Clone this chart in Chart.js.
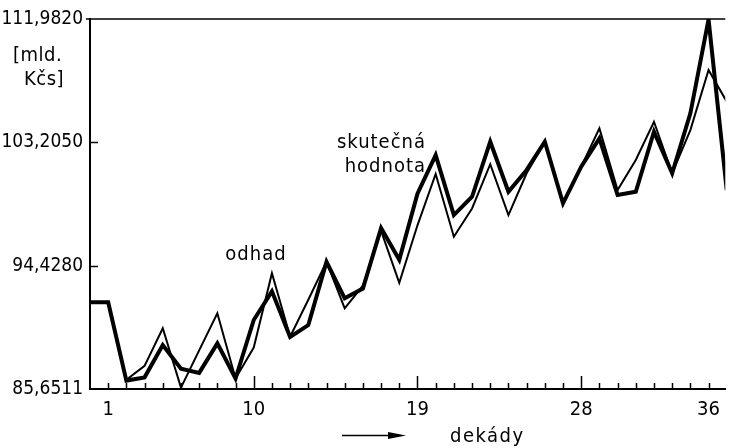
<!DOCTYPE html>
<html>
<head>
<meta charset="utf-8">
<script src="https://cdn.jsdelivr.net/npm/chart.js@4/dist/chart.umd.min.js"></script>
<style>
  html, body { margin: 0; padding: 0; background: #fff; }
  #c { display: block; }
</style>
</head>
<body>
<canvas id="c" width="729" height="448"></canvas>
<script>
// ---- data ----
const decades = [0,1,2,3,4,5,6,7,8,9,10,11,12,13,14,15,16,17,18,19,20,21,22,23,24,25,26,27,28,29,30,31,32,33,34,35];
const actualValues = [91.82,91.82,86.25,86.48,88.78,87.10,86.80,88.90,86.40,90.56,92.60,89.35,90.20,94.70,92.10,92.80,97.10,94.85,99.55,102.30,98.03,99.33,103.25,99.69,101.24,103.25,98.86,101.47,103.49,99.46,99.69,103.96,101.00,105.27,111.95,99.80];
const estimateValues = [91.82,91.82,86.30,87.30,89.97,85.75,88.40,91.04,86.40,88.60,93.89,89.37,92.00,94.70,91.39,93.00,96.90,93.20,97.30,100.95,96.49,98.50,101.65,98.03,101.00,103.25,98.86,101.47,104.20,99.81,101.95,104.67,101.00,104.08,108.36,106.10];
const xTickValues = [1, 9, 18, 27, 34];
const xTickLabels = ['1', '10', '19', '28', '36'];
const yTickValues = [85.6511, 94.4280, 103.2050, 111.9820];
const yTickLabels = ['85,6511', '94,4280', '103,2050', '111,9820'];
const yUnitLines = ['[mld.', 'Kčs]'];
const labelEstimate = 'odhad';
const labelActual = ['skutečná', 'hodnota'];
const xTitle = 'dekády';

const FONT = "'DejaVu Sans Condensed', 'Liberation Sans Narrow', sans-serif";

const decoPlugin = {
  id: 'deco',
  afterDraw(chart) {
    const ctx = chart.ctx;
    const xs = chart.scales.x, ys = chart.scales.y;
    const a = chart.chartArea;
    ctx.save();
    ctx.strokeStyle = '#000';
    ctx.fillStyle = '#000';
    // top frame line
    ctx.lineWidth = 1.5;
    ctx.beginPath();
    ctx.moveTo(a.left - 4, a.top);
    ctx.lineTo(a.right, a.top);
    ctx.stroke();
    // x ticks (inward)
    for (let k = 1; k <= 34; k++) {
      const px = Math.round(xs.getPixelForValue(k)) + 0.5;
      const len = (k === 9 || k === 18 || k === 27) ? 13 : 6;
      ctx.beginPath();
      ctx.moveTo(px, a.bottom);
      ctx.lineTo(px, a.bottom - len);
      ctx.stroke();
    }
    // y ticks (inward)
    [yTickValues[1], yTickValues[2]].forEach(v => {
      const py = Math.round(ys.getPixelForValue(v)) + 0.5;
      ctx.beginPath();
      ctx.moveTo(a.left, py);
      ctx.lineTo(a.left + 8, py);
      ctx.stroke();
    });
    // unit text
    ctx.font = '20px ' + FONT;
    ctx.textBaseline = 'middle';
    ctx.textAlign = 'left';
    ctx.letterSpacing = '0.5px';
    ctx.fillText(yUnitLines[0], 13, 56);
    ctx.fillText(yUnitLines[1], 24, 80);
    // annotations
    ctx.letterSpacing = '1px';
    ctx.textAlign = 'center';
    ctx.fillText(labelEstimate, 256, 255);
    ctx.textAlign = 'right';
    ctx.fillText(labelActual[0], 426, 143);
    ctx.fillText(labelActual[1], 426, 167);
    // x title and arrow
    ctx.textAlign = 'left';
    ctx.letterSpacing = '1.5px';
    ctx.fillText(xTitle, 450, 437);
    ctx.lineWidth = 1.5;
    ctx.beginPath();
    ctx.moveTo(342, 435.5);
    ctx.lineTo(395, 435.5);
    ctx.stroke();
    ctx.beginPath();
    ctx.moveTo(406, 435.5);
    ctx.lineTo(388, 432);
    ctx.lineTo(388, 439);
    ctx.closePath();
    ctx.fill();
    ctx.restore();
  }
};

new Chart(document.getElementById('c'), {
  type: 'line',
  data: {
    datasets: [
      {
        label: labelEstimate,
        data: decades.map((k, i) => ({ x: k, y: estimateValues[i] })),
        borderColor: '#000',
        borderWidth: 2,
        pointRadius: 0,
        tension: 0,
        borderJoinStyle: 'miter',
        fill: false
      },
      {
        label: labelActual.join(' '),
        data: decades.map((k, i) => ({ x: k, y: actualValues[i] })),
        borderColor: '#000',
        borderWidth: 4,
        pointRadius: 0,
        tension: 0,
        borderJoinStyle: 'miter',
        fill: false
      }
    ]
  },
  options: {
    responsive: false,
    devicePixelRatio: 1,
    animation: false,
    layout: { padding: { top: 19, right: 0, left: 0, bottom: 0 } },
    plugins: { legend: { display: false }, tooltip: { enabled: false } },
    scales: {
      x: {
        type: 'linear',
        min: 0,
        max: 34.92,
        afterFit(s) { s.height = 59; },
        afterBuildTicks(s) { s.ticks = xTickValues.map(v => ({ value: v })); },
        grid: { display: false, drawTicks: false },
        border: { display: true, color: '#000', width: 2 },
        ticks: {
          color: '#000',
          padding: 9,
          maxRotation: 0,
          autoSkip: false,
          font: { family: FONT, size: 20 },
          callback(v) { const i = xTickValues.indexOf(v); return i >= 0 ? xTickLabels[i] : ''; }
        }
      },
      y: {
        type: 'linear',
        min: 85.6511,
        max: 111.9820,
        afterFit(s) { s.width = 90; },
        afterBuildTicks(s) { s.ticks = yTickValues.map(v => ({ value: v })); },
        grid: { display: false, drawTicks: false },
        border: { display: true, color: '#000', width: 2 },
        ticks: {
          color: '#000',
          padding: 7,
          autoSkip: false,
          font: { family: FONT, size: 19 },
          callback(v) { const i = yTickValues.indexOf(v); return i >= 0 ? yTickLabels[i] : ''; }
        }
      }
    }
  },
  plugins: [decoPlugin]
});
</script>
</body>
</html>
